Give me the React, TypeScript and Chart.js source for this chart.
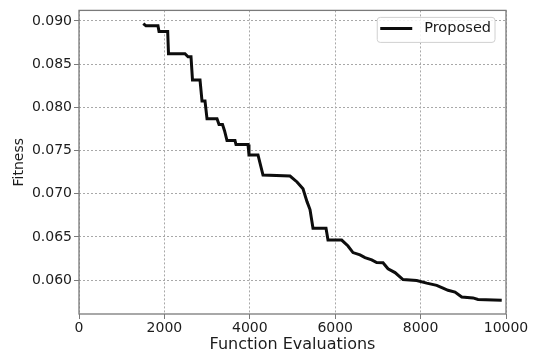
import React, { useEffect, useRef } from "react";
import { Chart, registerables } from "chart.js";

Chart.register(...registerables);

const seriesLabel = "Proposed";
const xTitle = "Function Evaluations";
const yTitle = "Fitness";

const evaluations = [
  1506, 1569, 1850, 1874, 2077, 2096, 2482, 2553, 2623, 2658, 2834, 2881, 2951,
  2998, 3232, 3279, 3361, 3408, 3466, 3653, 3677, 3958, 3981, 4192, 4309, 4942,
  5106, 5246, 5340, 5410, 5480, 5785, 5831, 6152, 6300, 6417, 6581, 6698, 6855,
  6972, 7120, 7237, 7401, 7588, 7909, 8143, 8377, 8525, 8642, 8806, 8963, 9227,
  9345, 9900,
];

const fitness = [
  0.0897, 0.08943, 0.08943, 0.08879, 0.08879, 0.0862, 0.0862, 0.08586, 0.08586,
  0.08316, 0.08316, 0.08073, 0.08073, 0.07867, 0.07867, 0.07802, 0.07802,
  0.0773, 0.07616, 0.07616, 0.0757, 0.0757, 0.07449, 0.07449, 0.07217, 0.07206,
  0.07137, 0.07057, 0.06909, 0.06818, 0.06601, 0.06601, 0.06464, 0.06464,
  0.06396, 0.0632, 0.06293, 0.06262, 0.06236, 0.06205, 0.06202, 0.06133,
  0.06088, 0.06008, 0.05997, 0.05966, 0.0594, 0.05909, 0.05883, 0.05863,
  0.05806, 0.05795, 0.05777, 0.05769,
];

const xTicks = [0, 2000, 4000, 6000, 8000, 10000];
const yTicks = [0.06, 0.065, 0.07, 0.075, 0.08, 0.085, 0.09];

const FONT = "'DejaVu Sans', 'Noto Sans', sans-serif";
const TEXT = "#1c1c1c";

const framePlugin = {
  id: "frameAndLegend",
  afterDraw(chart: any) {
    const { ctx, chartArea } = chart;
    const { left, right, top, bottom } = chartArea;
    ctx.save();
    // axes frame
    ctx.strokeStyle = "#7a7a7a";
    ctx.lineWidth = 1.3;
    ctx.strokeRect(left, top, right - left, bottom - top);

    // legend
    const ds = chart.data.datasets[0];
    ctx.font = `14.5px ${FONT}`;
    const tw = ctx.measureText(ds.label).width;
    const boxRight = right - 11;
    const boxTop = top + 7;
    const boxH = 25;
    const lineLen = 32;
    const boxW = 3 + lineLen + 12 + tw + 4;
    const boxLeft = boxRight - boxW;
    const r = 3;
    ctx.beginPath();
    ctx.moveTo(boxLeft + r, boxTop);
    ctx.lineTo(boxRight - r, boxTop);
    ctx.quadraticCurveTo(boxRight, boxTop, boxRight, boxTop + r);
    ctx.lineTo(boxRight, boxTop + boxH - r);
    ctx.quadraticCurveTo(boxRight, boxTop + boxH, boxRight - r, boxTop + boxH);
    ctx.lineTo(boxLeft + r, boxTop + boxH);
    ctx.quadraticCurveTo(boxLeft, boxTop + boxH, boxLeft, boxTop + boxH - r);
    ctx.lineTo(boxLeft, boxTop + r);
    ctx.quadraticCurveTo(boxLeft, boxTop, boxLeft + r, boxTop);
    ctx.closePath();
    ctx.fillStyle = "rgba(255,255,255,0.85)";
    ctx.fill();
    ctx.strokeStyle = "#d0d0d0";
    ctx.lineWidth = 1;
    ctx.stroke();

    const cy = boxTop + 11;
    ctx.beginPath();
    ctx.moveTo(boxLeft + 3, cy);
    ctx.lineTo(boxLeft + 3 + lineLen, cy);
    ctx.strokeStyle = ds.borderColor;
    ctx.lineWidth = ds.borderWidth;
    ctx.stroke();

    ctx.fillStyle = TEXT;
    ctx.textBaseline = "middle";
    ctx.textAlign = "left";
    ctx.fillText(ds.label, boxLeft + 3 + lineLen + 12, cy);
    ctx.restore();
  },
};

export default function App() {
  const canvasRef = useRef<HTMLCanvasElement | null>(null);

  useEffect(() => {
    const canvas = canvasRef.current;
    if (!canvas) return;
    const chart = new Chart(canvas, {
      type: "line",
      data: {
        datasets: [
          {
            label: seriesLabel,
            data: evaluations.map((x, i) => ({ x, y: fitness[i] })),
            borderColor: "#0d0d0d",
            borderWidth: 3,
            pointRadius: 0,
            tension: 0,
            fill: false,
          },
        ],
      },
      options: {
        animation: false,
        responsive: false,
        devicePixelRatio: 1,
        layout: { padding: { left: 0, right: 34, top: 6, bottom: 0 } },
        plugins: {
          legend: { display: false },
          tooltip: { enabled: false },
        },
        scales: {
          x: {
            type: "linear",
            min: 0,
            max: 10000,
            afterBuildTicks: (s: any) => {
              s.ticks = xTicks.map((v) => ({ value: v }));
            },
            afterFit: (s: any) => {
              s.height = 42;
            },
            ticks: {
              font: { family: FONT, size: 14 },
              color: TEXT,
              padding: 1,
              maxRotation: 0,
              autoSkip: false,
              callback: (v: any) => String(v),
            },
            grid: {
              color: "#a8a8a8",
              lineWidth: 1,
              tickLength: 5,
              tickColor: "#7a7a7a",
            },
            border: { display: false, dash: [2, 2] },
            title: {
              display: true,
              text: xTitle,
              font: { family: FONT, size: 16 },
              color: TEXT,
              padding: { top: 0, bottom: 2 },
            },
          },
          y: {
            type: "linear",
            min: 0.05609,
            max: 0.09122,
            afterBuildTicks: (s: any) => {
              s.ticks = yTicks.map((v) => ({ value: v }));
            },
            afterFit: (s: any) => {
              s.width = 79;
            },
            ticks: {
              font: { family: FONT, size: 14 },
              color: TEXT,
              padding: 2,
              autoSkip: false,
              callback: (v: any) => Number(v).toFixed(3),
            },
            grid: {
              color: "#a8a8a8",
              lineWidth: 1,
              tickLength: 5,
              tickColor: "#7a7a7a",
            },
            border: { display: false, dash: [2, 2] },
            title: {
              display: true,
              text: yTitle,
              font: { family: FONT, size: 14 },
              color: TEXT,
              padding: { top: 11, bottom: 0 },
            },
          },
        },
      },
      plugins: [framePlugin],
    });
    return () => chart.destroy();
  }, []);

  return (
    <div style={{ position: "absolute", left: 0, top: 0, width: 540, height: 356, background: "#fff" }}>
      <canvas ref={canvasRef} width={540} height={356} style={{ display: "block" }} />
    </div>
  );
}
